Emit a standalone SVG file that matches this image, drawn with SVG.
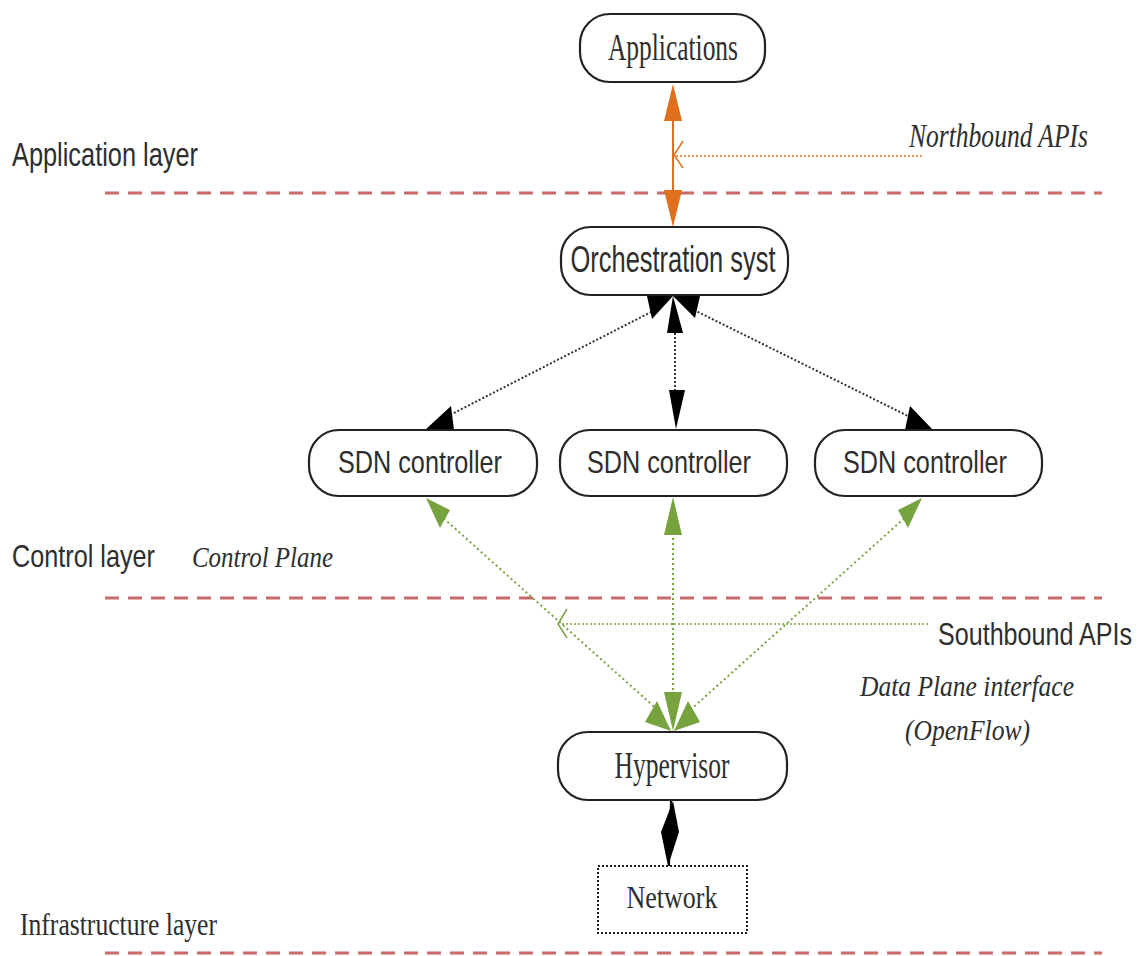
<svg xmlns="http://www.w3.org/2000/svg" width="1144" height="956" viewBox="0 0 1144 956">
<style>
.box{fill:#fff;stroke:#222;stroke-width:2.2}
.serif{font-family:"Liberation Serif","Times New Roman",serif;fill:#2e2e2e}
.sans{font-family:"Liberation Sans",Arial,sans-serif;fill:#2e2e2e}
.it{font-style:italic}
.layer{stroke:#c86a6a;stroke-width:3;stroke-dasharray:14 9;fill:none}
.blk{stroke:#333;stroke-width:2;stroke-dasharray:2 2;fill:none}
.grn{stroke:#77a33f;stroke-width:2;stroke-dasharray:2 3;fill:none}
.org{stroke:#e0701e;stroke-width:2;fill:none}
</style>
<rect width="1144" height="956" fill="#fff"/>
<g id="layers">
<line class="layer" x1="105" y1="193" x2="1102" y2="193"/>
<line class="layer" x1="105" y1="598" x2="1102" y2="598" stroke="#cf8f8f"/>
<line class="layer" x1="105" y1="953" x2="1102" y2="953"/>
</g>
<g id="labels">
<text class="sans" x="12" y="166" font-size="33" textLength="186" lengthAdjust="spacingAndGlyphs">Application layer</text>
<text class="sans" x="12" y="567" font-size="32" textLength="143" lengthAdjust="spacingAndGlyphs">Control layer</text>
<text class="serif it" x="192" y="567" font-size="30" textLength="141" lengthAdjust="spacingAndGlyphs">Control Plane</text>
<text class="serif" x="20" y="935" font-size="31" textLength="197" lengthAdjust="spacingAndGlyphs">Infrastructure layer</text>
<text class="serif it" x="909" y="147" font-size="33" textLength="179" lengthAdjust="spacingAndGlyphs">Northbound APIs</text>
<text class="sans" transform="translate(938,645) scale(0.785,1)" x="0" y="0" font-size="32">Southbound APIs</text>
<text class="serif it" x="860" y="696" font-size="30" textLength="214" lengthAdjust="spacingAndGlyphs">Data Plane interface</text>
<text class="serif it" x="905" y="740" font-size="30" textLength="125" lengthAdjust="spacingAndGlyphs">(OpenFlow)</text>
</g>
<g id="connectors">
<line class="org" x1="673" y1="110" x2="673" y2="200"/>
<polygon points="673,84 682,121 664,121" fill="#e0701e"/>
<polygon points="673,227 682,190 664,190" fill="#e0701e"/>
<line x1="922" y1="156" x2="676" y2="156" stroke="#e0701e" stroke-width="1.6" stroke-dasharray="2 2"/>
<polyline points="683,141 674,155 683,168" fill="none" stroke="#e0701e" stroke-width="1.5"/>
<line class="blk" x1="655" y1="310" x2="448" y2="416"/>
<line class="blk" x1="675" y1="333" x2="675" y2="392" stroke-dasharray="4 3"/>
<line class="blk" x1="694" y1="310" x2="908" y2="416"/>
<polygon points="647,296 673,296 652,319" fill="#000"/>
<polygon points="673,296 700,296 695,318" fill="#000"/>
<polygon points="673,296 683,333 667,333" fill="#000"/>
<polygon points="425,430 451,406 454,430" fill="#000"/>
<polygon points="669,390 685,390 676,429" fill="#000"/>
<polygon points="905,430 910,406 933,430" fill="#000"/>
<line class="grn" x1="440" y1="515" x2="660" y2="712"/>
<line class="grn" x1="673" y1="533" x2="673" y2="694"/>
<line class="grn" x1="908" y1="515" x2="688" y2="712"/>
<polygon points="426,498 450,510 440,528" fill="#77a33f"/>
<polygon points="673,497 682,535 664,535" fill="#77a33f"/>
<polygon points="922,498 898,510 908,528" fill="#77a33f"/>
<polygon points="657,701 645,722 671,731" fill="#77a33f"/>
<polygon points="664,692 682,692 673,731" fill="#77a33f"/>
<polygon points="688,701 700,722 674,731" fill="#77a33f"/>
<line x1="928" y1="624" x2="560" y2="624" stroke="#77a33f" stroke-width="1.6" stroke-dasharray="2 2"/>
<polyline points="567,609 558,624 567,638" fill="none" stroke="#77a33f" stroke-width="1.5"/>
<line x1="671" y1="800" x2="669" y2="866" stroke="#000" stroke-width="2"/>
<polygon points="673,801 679,832 668,866 661,832" fill="#000"/>
</g>
<g id="applications">
<rect class="box" x="580" y="14" width="185" height="68" rx="30"/>
<text class="serif" x="673" y="60" font-size="37" text-anchor="middle" textLength="130" lengthAdjust="spacingAndGlyphs">Applications</text>
</g>
<g id="orchestration">
<rect class="box" x="561" y="227" width="227" height="68" rx="30"/>
<text class="sans" x="673" y="272" font-size="37" text-anchor="middle" textLength="205" lengthAdjust="spacingAndGlyphs">Orchestration syst</text>
</g>
<g id="sdn1">
<rect class="box" x="309" y="430" width="228" height="66" rx="30"/>
<text class="sans" x="420" y="473" font-size="32" text-anchor="middle" textLength="164" lengthAdjust="spacingAndGlyphs">SDN controller</text>
</g>
<g id="sdn2">
<rect class="box" x="560" y="430" width="227" height="66" rx="30"/>
<text class="sans" x="669" y="473" font-size="32" text-anchor="middle" textLength="164" lengthAdjust="spacingAndGlyphs">SDN controller</text>
</g>
<g id="sdn3">
<rect class="box" x="815" y="430" width="227" height="66" rx="30"/>
<text class="sans" x="925" y="473" font-size="32" text-anchor="middle" textLength="164" lengthAdjust="spacingAndGlyphs">SDN controller</text>
</g>
<g id="hypervisor">
<rect class="box" x="558" y="732" width="229" height="68" rx="30"/>
<text class="serif" x="672" y="778" font-size="37" text-anchor="middle" textLength="115" lengthAdjust="spacingAndGlyphs">Hypervisor</text>
</g>
<g id="network">
<rect x="598" y="866" width="149" height="67" fill="#fff" stroke="#222" stroke-width="2" stroke-dasharray="2 2"/>
<text class="serif" x="672" y="908" font-size="31" text-anchor="middle" textLength="91" lengthAdjust="spacingAndGlyphs">Network</text>
</g>
</svg>
